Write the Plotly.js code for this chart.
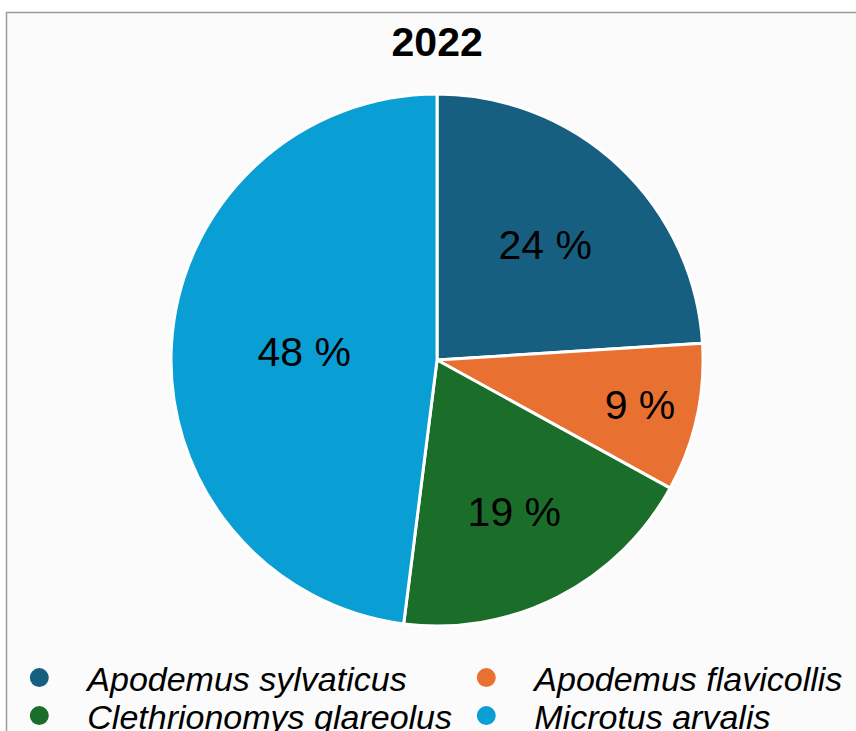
<!DOCTYPE html>
<html>
<head>
<meta charset="utf-8">
<script src="https://cdn.plot.ly/plotly-3.0.1.min.js"></script>
<style>
  html, body { margin: 0; padding: 0; background: #ffffff; }
  #chart { width: 856px; height: 731px; }
</style>
</head>
<body>
<div id="chart"></div>
<script>
const species = ["Apodemus sylvaticus", "Apodemus flavicollis", "Clethrionomys glareolus", "Microtus arvalis"];
const shares = [24, 9, 19, 48];
const colors = ["#175f80", "#e87131", "#1b6e2a", "#0a9fd4"];
const chartTitle = "2022";

const font = "Liberation Sans, Arial, Helvetica, sans-serif";

const pie = {
  type: "pie",
  labels: species,
  values: shares,
  text: shares.map(v => v + " %"),
  textinfo: "text",
  textposition: "inside",
  insidetextorientation: "horizontal",
  textfont: { family: font, size: 41, color: "#000000" },
  sort: false,
  direction: "clockwise",
  rotation: 0,
  marker: { colors: colors, line: { color: "#ffffff", width: 3 } },
  domain: { x: [0.1998, 0.8213], y: [0.1436, 0.8714] },
  showlegend: false,
  hoverinfo: "label+percent"
};

// each legend entry gets its own legend box so the 2x2 grid can be placed freely
const legendIds = ["legend", "legend2", "legend3", "legend4"];
const legendTraces = species.map((name, i) => ({
  type: "scatter",
  mode: "markers",
  x: [null], y: [null],
  name: name,
  legend: legendIds[i],
  marker: { color: colors[i], size: 16, symbol: "circle", line: { color: colors[i], width: 3 } },
  showlegend: true,
  hoverinfo: "skip"
}));

const colX = [-8.7 / 856, 438.3 / 856];
const rowTop = [649 / 731, 687 / 731];
function legendBox(col, row) {
  return {
    orientation: "v",
    x: colX[col], xanchor: "left",
    y: 1 - rowTop[row], yanchor: "top",
    font: { family: font, size: 34, color: "#000000", style: "italic" },
    itemwidth: 86,
    bgcolor: "rgba(0,0,0,0)",
    borderwidth: 0
  };
}

const layout = {
  width: 856, height: 731,
  margin: { l: 0, r: 0, t: 0, b: 0, autoexpand: false },
  paper_bgcolor: "rgba(0,0,0,0)",
  plot_bgcolor: "rgba(0,0,0,0)",
  title: {
    text: "<b>" + chartTitle + "</b>",
    font: { family: font, size: 41, color: "#000000" },
    x: 0.5107, xanchor: "center",
    y: 1 - 42 / 731, yanchor: "middle"
  },
  xaxis: { visible: false },
  yaxis: { visible: false },
  legend: legendBox(0, 0),
  legend2: legendBox(1, 0),
  legend3: legendBox(0, 1),
  legend4: legendBox(1, 1),
  shapes: [{
    type: "rect", xref: "paper", yref: "paper", layer: "below",
    x0: 6.5 / 856, x1: 1.02, y0: -0.05, y1: 1 - 12.5 / 731,
    fillcolor: "#fbfbfb",
    line: { color: "#9a9a9a", width: 1.5 }
  }],
  showlegend: true
};

Plotly.newPlot("chart", [pie].concat(legendTraces), layout, { displayModeBar: false, staticPlot: true });
</script>
</body>
</html>
